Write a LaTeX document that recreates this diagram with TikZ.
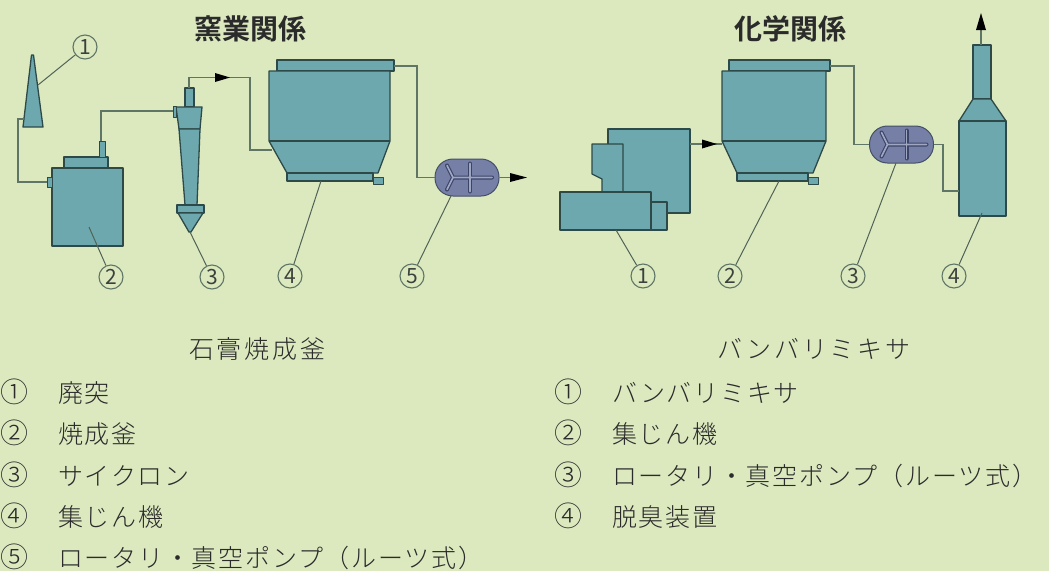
\documentclass[tikz,border=0pt]{standalone}
\usepackage{fontspec}
\setmainfont{Noto Sans CJK JP}
\newfontfamily\jplist[LetterSpace=7]{Noto Sans CJK JP Light}
\newfontfamily\jphead[LetterSpace=11]{Noto Sans CJK JP Light}
\newfontfamily\jpbold{Noto Sans CJK JP Bold}
\definecolor{bgg}{HTML}{DCE9BF}
\definecolor{tealf}{HTML}{6CA8AE}
\definecolor{lined}{HTML}{2E4A48}
\definecolor{pipe}{HTML}{5F7565}
\definecolor{pumpf}{HTML}{7680A6}
\definecolor{pumpd}{HTML}{3C4468}
\definecolor{txt}{HTML}{2B2B2B}
\tikzset{
 x=1pt,y=-1pt,
 eq/.style={draw=lined,fill=tealf,line width=1.3pt,line join=round},
 eqthin/.style={eq,line width=1pt},
 pipeline/.style={draw=pipe,line width=1.8pt,line join=miter},
 leader/.style={draw=pipe!85!black,line width=1pt},
 num/.style={circle,draw=pipe,line width=1.1pt,fill=bgg,minimum size=24pt,inner sep=0pt,font=\fontsize{21}{21}\selectfont,text=txt!70!pipe},
 title/.style={font=\jpbold\fontsize{28}{30}\selectfont,text=txt,inner sep=0pt},
 lst/.style={anchor=west,inner sep=0pt,font=\jplist\fontsize{25}{28}\selectfont,text=txt},
 hdr/.style={inner sep=0pt,font=\jphead\fontsize{25}{28}\selectfont,text=txt},
 arrowtip/.style={fill=black,draw=none},
 pumpbody/.style={draw=pumpd!80!pipe,fill=pumpf,line width=1pt,rounded corners=18pt},
 rotorout/.style={draw=pumpd,line width=4pt,line cap=round},
 rotorin/.style={draw=pumpf!70!white,line width=1.6pt,line cap=round}
}
\newcommand{\pumpat}[4]{% centre x, y, name, vertical rotor offset
 \node[pumpbody,minimum width=64pt,minimum height=37pt,inner sep=0pt] (#3) at (#1,#2) {};
 \begin{scope}[shift={(#1,#2)}]
  \foreach \st in {rotorout,rotorin}{
   \draw[\st] (-14,0)--(-20,-12) (-14,0)--(-20,12) (-14,0)--(25,0);
   \draw[\st] (#4,-14)--(#4,14);
  }
 \end{scope}}
% body left, body right, plate left, plate right, hopper left, hopper right, base right, small box right, prefix
\newcommand{\collector}[9]{%
  \draw[eq] (#3,60)--(#4,60)--(#4,71)--(#3,71)--cycle;
  \coordinate (#9out) at (#4,66);
  \draw[eq] (#1,71)--(#2,71)--(#2,141)--(#6,173)--(#5,173)--(#1,141)--cycle;
  \draw[eq] (#1,141)--(#2,141);
  \draw[eq] (#5,173)--(#7,173)--(#7,181)--(#5,181)--cycle;
  \draw[eqthin] (#7,177)--(#8,177)--(#8,184)--(#7,184)--cycle;
}
\begin{document}
\begin{tikzpicture}
\useasboundingbox[fill=bgg] (0,0) rectangle (1049,571);
% titles
\node[title] (t1) at (250,29) {窯業関係};
\node[title] (t2) at (790,29) {化学関係};

% --- left: chimney
\draw[eq] (31.5,55)--(33.5,55)--(43,127)--(23,127)--cycle;
\coordinate (chimL) at (24,119);
\coordinate (chimR) at (38,85);
% calciner
\draw[eq] (64,157)--(108,157)--(108,168)--(64,168)--cycle;
\draw[eq] (52,168)--(123,168)--(123,246)--(52,246)--cycle;
\draw[eqthin] (47,177)--(52,177)--(52,187)--(47,187)--cycle;
\draw[eqthin] (99,141)--(105,141)--(105,157)--(99,157)--cycle;
\coordinate (calcL) at (47,182);
\coordinate (calcT) at (101,141);
\coordinate (calcC) at (89,227);
% cyclone
\draw[eq] (185,88)--(194,88)--(194,107)--(185,107)--cycle;
\draw[eq] (176,107)--(202,107)--(200,129)--(179,129)--cycle;
\draw[eq] (179,129)--(200,129)--(197,205)--(185,205)--cycle;
\draw[eq] (177,205)--(204,205)--(204,213)--(177,213)--cycle;
\draw[eq] (178,213)--(203,213)--(191,232)--(189,232)--cycle;
\draw[eqthin] (173,106)--(176,106)--(176,117)--(173,117)--cycle;
\coordinate (cycL) at (173,111);
\coordinate (cycT) at (189,88);
\coordinate (cycB) at (190,232);
% pipes
\draw[pipeline] (chimL)--(18,119)--(18,182)--(calcL);
\draw[pipeline] (calcT)--(101,111)--(cycL);
\coordinate (caIn) at (272,150);
\draw[pipeline] (cycT)--(189,77.5)--(250,77.5)--(250,150)--(caIn);
\fill[arrowtip] (215,73)--(230,77.5)--(215,82)--cycle;
% collector 1
\collector{269}{390}{277}{394}{287}{378}{373}{383}{ca}
\coordinate (cabot) at (321,181);
% pump 1
\pumpat{467}{177.5}{pa}{3}
\coordinate (pasw) at (451,196);
\coordinate (paend) at (512,177.5);
\draw[pipeline] (caout)--(417,66)--(417,177.5)--(pa.west);
\draw[pipeline] (pa.east)--(paend);
\fill[arrowtip] (510,173)--(527,177.5)--(510,182)--cycle;

% --- right: banbury
\draw[eq] (608,129)--(690,129)--(690,213)--(608,213)--cycle;
\draw[eq] (592,144)--(623,144)--(623,193)--(602,193)--(602,179)--(592,174)--cycle;
\draw[eq] (640,202)--(667,202)--(667,230)--(640,230)--cycle;
\draw[eq] (560,192)--(651,192)--(651,230)--(560,230)--cycle;
\coordinate (banR) at (690,144);
\coordinate (banB) at (616,230);
% collector 2
\collector{722}{826}{729}{830}{737}{813}{808}{818}{cb}
\coordinate (cbL) at (722,144);
\coordinate (cbbot) at (779,181);
\draw[pipeline] (banR)--(cbL);
\fill[arrowtip] (702,139.5)--(717,144)--(702,148.5)--cycle;
% pump 2
\pumpat{901.5}{144.5}{pb}{5}
\coordinate (pbsw) at (896,163);
\draw[pipeline] (cbout)--(854,66)--(854,144.5)--(pb.west);
% deodorizer
\draw[eq] (973,45)--(991,45)--(991,99)--(973,99)--cycle;
\draw[eq] (973,99)--(991,99)--(1006,121)--(959,121)--cycle;
\draw[eq] (959,121)--(1006,121)--(1006,216)--(959,216)--cycle;
\coordinate (deoT) at (981,45);
\coordinate (deoL) at (959,191);
\coordinate (deoC) at (982,213);
\coordinate (deoTop) at (981,28);
\draw[pipeline] (pb.east)--(943,144.5)--(943,191)--(deoL);
\draw[pipeline] (deoT)--(deoTop);
\fill[arrowtip] (976,30)--(981,13)--(986,30)--cycle;

% numbers
\node[num] (n11) at (85,47) {1};
\node[num] (n12) at (111,277) {2};
\node[num] (n13) at (212,277) {3};
\node[num] (n14) at (290,276) {4};
\node[num] (n15) at (412,276) {5};
\node[num] (n21) at (643,276) {1};
\node[num] (n22) at (730,276) {2};
\node[num] (n23) at (853,276) {3};
\node[num] (n24) at (954,276) {4};
\draw[leader] (n11)--(chimR);
\draw[leader] (n12)--(calcC);
\draw[leader] (n13)--(cycB);
\draw[leader] (n14)--(cabot);
\draw[leader] (n15)--(pasw);
\draw[leader] (n21)--(banB);
\draw[leader] (n22)--(cbbot);
\draw[leader] (n23)--(pbsw);
\draw[leader] (n24)--(deoC);

% lists
\node[hdr] (h1) at (257,349) {石膏焼成釜};
\node[lst] (a1) at (0,392) {\makebox[58pt][l]{\fontsize{28}{28}\selectfont ①}廃突};
\node[lst] (a2) at (0,433) {\makebox[58pt][l]{\fontsize{28}{28}\selectfont ②}焼成釜};
\node[lst] (a3) at (0,475) {\makebox[58pt][l]{\fontsize{28}{28}\selectfont ③}サイクロン};
\node[lst] (a4) at (0,516) {\makebox[58pt][l]{\fontsize{28}{28}\selectfont ④}集じん機};
\node[lst] (a5) at (0,557) {\makebox[58pt][l]{\fontsize{28}{28}\selectfont ⑤}ロータリ・真空ポンプ（ルーツ式）};
\node[hdr] (h2) at (814,349) {バンバリミキサ};
\node[lst] (b1) at (554,392) {\makebox[58pt][l]{\fontsize{28}{28}\selectfont ①}バンバリミキサ};
\node[lst] (b2) at (554,433) {\makebox[58pt][l]{\fontsize{28}{28}\selectfont ②}集じん機};
\node[lst] (b3) at (554,475) {\makebox[58pt][l]{\fontsize{28}{28}\selectfont ③}ロータリ・真空ポンプ（ルーツ式）};
\node[lst] (b4) at (554,516) {\makebox[58pt][l]{\fontsize{28}{28}\selectfont ④}脱臭装置};
\end{tikzpicture}
\end{document}
